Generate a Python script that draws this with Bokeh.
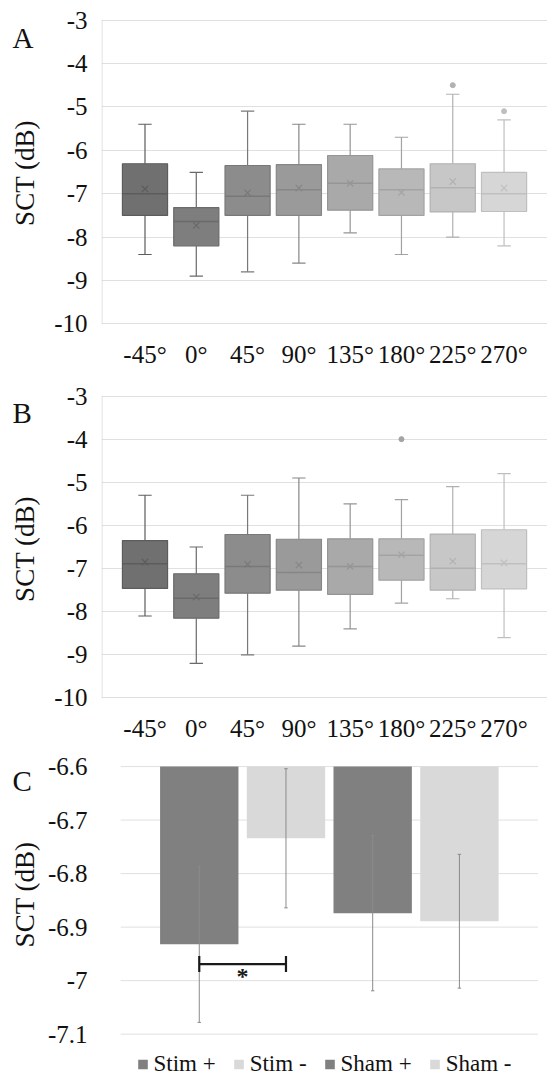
import math
from bokeh.plotting import figure
from bokeh.models import (Range1d, FixedTicker, Legend, LegendItem, Span,
                          ColumnDataSource, CustomJSTickFormatter)
from bokeh.layouts import column, row
from bokeh.core.properties import value
from bokeh.embed import file_html
from bokeh.resources import INLINE

# ---------------- data ----------------
angles = ["-45°", "0°", "45°", "90°", "135°", "180°", "225°", "270°"]

# Panel A box statistics
a_min  = [-8.4, -8.9, -8.8, -8.6, -7.9, -8.4, -8.0, -8.2]
a_q1   = [-7.5, -8.2, -7.5, -7.5, -7.38, -7.5, -7.42, -7.41]
a_med  = [-7.0, -7.64, -7.06, -6.91, -6.76, -6.91, -6.86, -7.0]
a_mean = [-6.89, -7.73, -6.98, -6.87, -6.76, -6.97, -6.72, -6.87]
a_q3   = [-6.31, -7.32, -6.35, -6.33, -6.12, -6.43, -6.31, -6.51]
a_max  = [-5.4, -6.51, -5.1, -5.4, -5.4, -5.7, -4.71, -5.3]
a_out_cat = ["225°", "270°"]
a_out_val = [-4.5, -5.1]

# Panel B box statistics
b_min  = [-8.1, -9.2, -9.0, -8.8, -8.4, -7.8, -7.7, -8.6]
b_q1   = [-7.46, -8.15, -7.57, -7.5, -7.6, -7.27, -7.5, -7.47]
b_med  = [-6.89, -7.69, -6.95, -7.09, -6.95, -6.69, -6.99, -6.89]
b_mean = [-6.85, -7.66, -6.9, -6.92, -6.95, -6.68, -6.83, -6.87]
b_q3   = [-6.35, -7.12, -6.21, -6.32, -6.31, -6.31, -6.2, -6.1]
b_max  = [-5.3, -6.5, -5.3, -4.9, -5.5, -5.4, -5.1, -4.8]
b_out_cat = ["180°"]
b_out_val = [-4.0]

# Panel C means and error
groups = ["Stim +", "Stim -", "Sham +", "Sham -"]
c_mean = [-6.932, -6.734, -6.874, -6.889]
c_err  = [0.146, 0.130, 0.145, 0.125]
c_ticks = [-7.1, -7.0, -6.9, -6.8, -6.7, -6.6]
sig_pair = ["Stim +", "Stim -"]
sig_y = -6.969
sig_text = "*"

panel_letters = ["A", "B", "C"]
y_title = "SCT (dB)"

# ---------------- styles ----------------
box_fill = ["#707070", "#7e7e7e", "#8c8c8c", "#9a9a9a", "#a9a9a9", "#b8b8b8", "#c7c7c7", "#d6d6d6"]
box_line = ["#5c5c5c", "#6a6a6a", "#787878", "#868686", "#959595", "#a3a3a3", "#b1b1b1", "#bfbfbf"]
bar_fill = ["#808080", "#d9d9d9", "#808080", "#d9d9d9"]
SERIF = "Liberation Serif, Times New Roman, serif"
TXT = "#111111"
GRID = "#e0e0e0"
PAGE_W, PAGE_H = 547, 1077
GUTTER = 44
MAIN_W = PAGE_W - GUTTER
BORDER_L = 50
H_A, H_B = 378, 366
H_C = PAGE_H - H_A - H_B

int_fmt = CustomJSTickFormatter(code="return tick.toString();")
dec_fmt = CustomJSTickFormatter(code="return String(Math.round(tick*10)/10);")


def style_axis(ax, size="25px"):
    ax.axis_line_color = None
    ax.major_tick_line_color = None
    ax.minor_tick_line_color = None
    ax.major_label_text_font = SERIF
    ax.major_label_text_font_size = size
    ax.major_label_text_color = TXT


def box_panel(mins, q1, med, mean, q3, maxs, out_cat, out_val, height, btop, bbot):
    xs = list(range(1, len(angles) + 1))
    src = ColumnDataSource(dict(
        x=xs, mn=mins, q1=q1, med=med, mean=mean, q3=q3, mx=maxs,
        cl=[x - 0.13 for x in xs], cr=[x + 0.13 for x in xs],
        ml=[x - 0.44 for x in xs], mr=[x + 0.44 for x in xs],
        fill=box_fill, line=box_line))
    x0 = 0.152
    p = figure(width=MAIN_W, height=height, output_backend="svg",
               toolbar_location=None,
               x_range=Range1d(x0, 8.847), y_range=Range1d(-10.012, -2.988),
               min_border_left=BORDER_L, min_border_right=0,
               min_border_top=btop, min_border_bottom=bbot)
    p.outline_line_color = None
    p.xgrid.grid_line_color = None
    p.ygrid.grid_line_color = GRID
    yt = list(range(-10, -2))
    p.ygrid.ticker = FixedTicker(ticks=yt)
    p.yaxis.ticker = FixedTicker(ticks=yt)
    p.yaxis.formatter = int_fmt
    p.xaxis.ticker = FixedTicker(ticks=xs)
    p.xaxis.major_label_overrides = {x: a for x, a in zip(xs, angles)}
    style_axis(p.xaxis[0])
    style_axis(p.yaxis[0])
    p.xaxis.major_label_standoff = 10
    p.yaxis.major_label_standoff = 8
    # left plot-area border (the right one lies past the picture's edge)
    p.add_layout(Span(location=x0 + 0.01, dimension="height",
                      line_color="#d9d9d9", line_width=1))

    p.segment(x0="x", y0="q3", x1="x", y1="mx", line_color="line", line_width=1.2, source=src)
    p.segment(x0="x", y0="q1", x1="x", y1="mn", line_color="line", line_width=1.2, source=src)
    p.segment(x0="cl", y0="mx", x1="cr", y1="mx", line_color="line", line_width=1.2, source=src)
    p.segment(x0="cl", y0="mn", x1="cr", y1="mn", line_color="line", line_width=1.2, source=src)
    p.vbar(x="x", width=0.88, top="q3", bottom="q1", fill_color="fill",
           line_color="line", line_width=1.2, source=src)
    p.segment(x0="ml", y0="med", x1="mr", y1="med", line_color="line", line_width=1.5, source=src)
    p.scatter(x="x", y="mean", marker="x", size=9, line_color="line", line_width=1.2, source=src)

    ox = [angles.index(c) + 1 for c in out_cat]
    oc = [box_line[angles.index(c)] for c in out_cat]
    p.scatter(x=ox, y=out_val, marker="circle", size=5, fill_color=oc, line_color=oc)
    return p


pA = box_panel(a_min, a_q1, a_med, a_mean, a_q3, a_max, a_out_cat, a_out_val, H_A, 19, 54)
pB = box_panel(b_min, b_q1, b_med, b_mean, b_q3, b_max, b_out_cat, b_out_val, H_B, 17, 43)

# ---------------- panel C ----------------
cx = list(range(1, len(groups) + 1))
top_val = c_ticks[-1]
csrc = ColumnDataSource(dict(
    x=cx, mean=c_mean, top=[top_val] * len(cx),
    lo=[m - e for m, e in zip(c_mean, c_err)],
    hi=[m + e for m, e in zip(c_mean, c_err)],
    cl=[x - 0.02 for x in cx], cr=[x + 0.02 for x in cx],
    fill=bar_fill))

# plotted area of panel C is narrower than its frame (frame shared with A/B)
c_area = (0.093, 4.907)
pC = figure(width=MAIN_W, height=H_C, output_backend="svg", toolbar_location=None,
            x_range=Range1d(-0.1275, 5.016), y_range=Range1d(-7.181, -6.598),
            min_border_left=BORDER_L, min_border_right=0, min_border_top=21,
            min_border_bottom=0, x_axis_location=None)
pC.outline_line_color = None
pC.grid.grid_line_color = None
pC.segment(x0=[c_area[0]] * len(c_ticks), x1=[c_area[1]] * len(c_ticks),
           y0=c_ticks, y1=c_ticks, line_color=GRID, line_width=1)
yax = pC.yaxis[0]
yax.ticker = FixedTicker(ticks=c_ticks)
yax.formatter = dec_fmt
style_axis(yax)
yax.major_label_standoff = 8

bars = pC.vbar(x="x", width=0.904, top="top", bottom="mean", fill_color="fill",
               line_color=None, source=csrc)
pC.segment(x0="x", y0="lo", x1="x", y1="hi", line_color="#8a8a8a", line_width=1, source=csrc)
pC.segment(x0="cl", y0="lo", x1="cr", y1="lo", line_color="#8a8a8a", line_width=1, source=csrc)
pC.segment(x0="cl", y0="hi", x1="cr", y1="hi", line_color="#8a8a8a", line_width=1, source=csrc)

s0 = groups.index(sig_pair[0]) + 1
s1 = groups.index(sig_pair[1]) + 1
pC.segment(x0=[s0], y0=[sig_y], x1=[s1], y1=[sig_y], line_color="#1a1a1a", line_width=2.2)
pC.segment(x0=[s0, s1], y0=[sig_y - 0.015] * 2, x1=[s0, s1], y1=[sig_y + 0.015] * 2,
           line_color="#1a1a1a", line_width=2.2)
pC.text(x=[(s0 + s1) / 2], y=[sig_y - 0.022], text=[sig_text], text_align="center",
        text_baseline="middle", text_font=value(SERIF), text_font_size="24px",
        text_font_style="bold", text_color="#1a1a1a")

legend = Legend(items=[LegendItem(label=g, renderers=[bars], index=i)
                       for i, g in enumerate(groups)],
                location="bottom_center", orientation="horizontal",
                margin=0, padding=0, spacing=17, label_standoff=5,
                glyph_width=12, glyph_height=12,
                label_text_font=SERIF, label_text_font_size="23px",
                label_text_color=TXT, background_fill_alpha=0,
                border_line_color=None)
pC.add_layout(legend)

# ---------------- left gutter: panel letters and axis titles ----------------
g_top = 19
g = figure(width=GUTTER, height=PAGE_H, output_backend="svg", toolbar_location=None,
           x_range=Range1d(0, GUTTER), y_range=Range1d(PAGE_H, g_top),
           x_axis_location=None, y_axis_location=None,
           min_border_left=0, min_border_right=0,
           min_border_top=g_top, min_border_bottom=0)
g.outline_line_color = None
g.grid.grid_line_color = None
g.text(x=[12, 12, 12], y=[37, 412, 780], text=panel_letters, text_baseline="alphabetic",
       text_align="left", text_font=value(SERIF), text_font_size="29px", text_color=TXT)
g.text(x=[24.4, 24.4, 24.4], y=[172.5, 548.5, 894], text=[y_title] * 3,
       angle=math.pi / 2, text_align="center", text_baseline="middle",
       text_font=value(SERIF), text_font_size="27px", text_color=TXT)

layout = row(g, column(pA, pB, pC, spacing=0), spacing=0)
open("out.html", "w").write(file_html(layout, INLINE))
